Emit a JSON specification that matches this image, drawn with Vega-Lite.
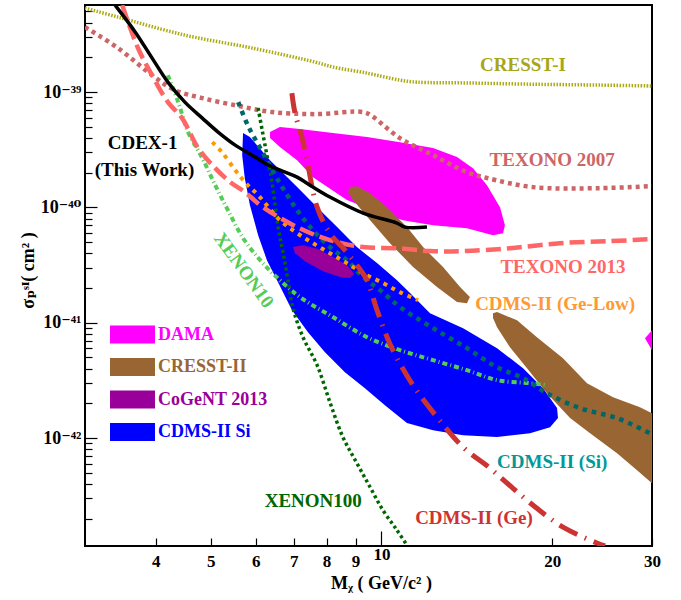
{
"$schema": "https://vega.github.io/schema/vega-lite/v6.json",
"width": 567, "height": 541,
"autosize": {"type": "none"},
"padding": {"left": 85, "top": 5, "right": 29, "bottom": 54},
"background": "white",
"config": {"view": {"stroke": "black", "strokeWidth": 2}},
"datasets": {
"cresst1": [{"i":0,"m":3.0,"s":5.35e-39},{"i":1,"m":3.43,"s":4.47e-39},{"i":2,"m":4.5,"s":3.12e-39},{"i":3,"m":5.91,"s":2.41e-39},{"i":4,"m":7.64,"s":1.82e-39},{"i":5,"m":8.21,"s":1.65e-39},{"i":6,"m":9.43,"s":1.46e-39},{"i":7,"m":10.78,"s":1.27e-39},{"i":8,"m":11.55,"s":1.22e-39},{"i":9,"m":14.15,"s":1.2e-39},{"i":10,"m":18.5,"s":1.17e-39},{"i":11,"m":24.3,"s":1.15e-39},{"i":12,"m":30,"s":1.13e-39}],
"texono07": [{"i":0,"m":3.0,"s":3.66e-39},{"i":1,"m":3.43,"s":2.41e-39},{"i":2,"m":3.94,"s":1.4e-39},{"i":3,"m":4.32,"s":1.04e-39},{"i":4,"m":4.83,"s":8.87e-40},{"i":5,"m":5.59,"s":7.6e-40},{"i":6,"m":6.41,"s":6.71e-40},{"i":7,"m":7.64,"s":6.44e-40},{"i":8,"m":9.28,"s":6.71e-40},{"i":9,"m":9.62,"s":6.19e-40},{"i":10,"m":10.78,"s":3.99e-40},{"i":11,"m":12.33,"s":2.84e-40},{"i":12,"m":14.15,"s":2.02e-40},{"i":13,"m":15.35,"s":1.8e-40},{"i":14,"m":18.5,"s":1.5e-40},{"i":15,"m":24.3,"s":1.47e-40},{"i":16,"m":30,"s":1.53e-40}],
"cdex": [{"i":0,"m":3.39,"s":5.68e-39},{"i":1,"m":3.68,"s":3.31e-39},{"i":2,"m":3.94,"s":1.97e-39},{"i":3,"m":4.2,"s":1.22e-39},{"i":4,"m":4.5,"s":8.19e-40},{"i":5,"m":4.83,"s":5.95e-40},{"i":6,"m":5.15,"s":4.5e-40},{"i":7,"m":5.52,"s":3.47e-40},{"i":8,"m":5.91,"s":2.84e-40},{"i":9,"m":6.31,"s":2.33e-40},{"i":10,"m":6.76,"s":2.02e-40},{"i":11,"m":7.1,"s":1.83e-40},{"i":12,"m":7.57,"s":1.5e-40},{"i":13,"m":8.11,"s":1.23e-40},{"i":14,"m":9.28,"s":8.93e-41},{"i":15,"m":10.65,"s":7.31e-41},{"i":16,"m":11.0,"s":6.75e-41},{"i":17,"m":12.03,"s":6.75e-41}],
"texono13": [{"i":0,"m":3.49,"s":5.68e-39},{"i":1,"m":3.72,"s":2.41e-39},{"i":2,"m":3.94,"s":1.4e-39},{"i":3,"m":4.2,"s":8.19e-40},{"i":4,"m":4.45,"s":5.95e-40},{"i":5,"m":4.75,"s":3.27e-40},{"i":6,"m":5.09,"s":2.19e-40},{"i":7,"m":5.41,"s":1.66e-40},{"i":8,"m":5.74,"s":1.36e-40},{"i":9,"m":6.18,"s":1.006e-40},{"i":10,"m":7.1,"s":6.75e-41},{"i":11,"m":8.11,"s":5.21e-41},{"i":12,"m":9.28,"s":4.53e-41},{"i":13,"m":10.65,"s":4.43e-41},{"i":14,"m":12.18,"s":4.18e-41},{"i":15,"m":13.93,"s":4.18e-41},{"i":16,"m":16.85,"s":4.43e-41},{"i":17,"m":20.65,"s":4.9e-41},{"i":18,"m":25.3,"s":5.1e-41},{"i":19,"m":30,"s":5.31e-41}],
"xenon10": [{"i":0,"m":4.2,"s":1.4e-39},{"i":1,"m":4.38,"s":8.19e-40},{"i":2,"m":4.56,"s":4.5e-40},{"i":3,"m":4.83,"s":2.68e-40},{"i":4,"m":5.09,"s":1.56e-40},{"i":5,"m":5.36,"s":9.47e-41},{"i":6,"m":5.7,"s":5.42e-41},{"i":7,"m":6.11,"s":3.49e-41},{"i":8,"m":6.62,"s":2.34e-41},{"i":9,"m":7.18,"s":1.67e-41},{"i":10,"m":8.21,"s":1.12e-41},{"i":11,"m":9.43,"s":7.5e-42},{"i":12,"m":10.78,"s":5.79e-42},{"i":13,"m":12.33,"s":4.74e-42},{"i":14,"m":14.15,"s":3.88e-42},{"i":15,"m":15.99,"s":3.18e-42},{"i":16,"m":18.28,"s":2.99e-42},{"i":17,"m":19.58,"s":2.88e-42}],
"xenon100": [{"i":0,"m":6.06,"s":7.27e-40},{"i":1,"m":6.16,"s":4.68e-40},{"i":2,"m":6.28,"s":2.84e-40},{"i":3,"m":6.41,"s":1.66e-40},{"i":4,"m":6.57,"s":6.75e-41},{"i":5,"m":6.71,"s":4.01e-41},{"i":6,"m":6.84,"s":2.34e-41},{"i":7,"m":6.98,"s":1.34e-41},{"i":8,"m":7.27,"s":7.5e-42},{"i":9,"m":7.7,"s":4.29e-42},{"i":10,"m":8.11,"s":2.05e-42},{"i":11,"m":8.55,"s":1.02e-42},{"i":12,"m":9.05,"s":6.06e-43},{"i":13,"m":9.55,"s":3.75e-43},{"i":14,"m":10.06,"s":2.37e-43},{"i":15,"m":10.65,"s":1.59e-43},{"i":16,"m":11.09,"s":1.18e-43}],
"cdmsSiLimit": [{"i":0,"m":5.59,"s":8.19e-40},{"i":1,"m":5.82,"s":5.07e-40},{"i":2,"m":6.18,"s":2.96e-40},{"i":3,"m":6.62,"s":1.62e-40},{"i":4,"m":7.1,"s":9.47e-41},{"i":5,"m":7.57,"s":6.36e-41},{"i":6,"m":8.11,"s":4.53e-41},{"i":7,"m":8.69,"s":3.49e-41},{"i":8,"m":9.28,"s":2.49e-41},{"i":9,"m":9.94,"s":1.92e-41},{"i":10,"m":10.78,"s":1.37e-41},{"i":11,"m":12.33,"s":8.98e-42},{"i":12,"m":14.15,"s":6.02e-42},{"i":13,"m":15.99,"s":4.12e-42},{"i":14,"m":17.77,"s":3.31e-42},{"i":15,"m":19.58,"s":2.45e-42},{"i":16,"m":22.39,"s":1.82e-42},{"i":17,"m":26.03,"s":1.49e-42},{"i":18,"m":30,"s":1.08e-42}],
"geLow": [{"i":0,"m":5.03,"s":3.68e-40},{"i":1,"m":5.23,"s":3.02e-40},{"i":2,"m":5.52,"s":2.11e-40},{"i":3,"m":5.74,"s":1.66e-40},{"i":4,"m":6.06,"s":1.28e-40},{"i":5,"m":6.62,"s":7.76e-41},{"i":6,"m":7.1,"s":5.98e-41},{"i":7,"m":7.57,"s":4.9e-41},{"i":8,"m":8.11,"s":4.01e-41},{"i":9,"m":8.69,"s":3.29e-41},{"i":10,"m":9.28,"s":2.69e-41},{"i":11,"m":10.06,"s":2.21e-41},{"i":12,"m":10.78,"s":1.84e-41},{"i":13,"m":11.6,"s":1.57e-41}],
"cdmsGe": [{"i":0,"m":6.95,"s":9.8e-40},{"i":1,"m":7.04,"s":6.57e-40},{"i":2,"m":7.24,"s":4.07e-40},{"i":3,"m":7.39,"s":2.57e-40},{"i":4,"m":7.7,"s":1.006e-40},{"i":5,"m":8.11,"s":5.98e-41},{"i":6,"m":8.62,"s":4.26e-41},{"i":7,"m":9.05,"s":3.16e-41},{"i":8,"m":9.43,"s":2.34e-41},{"i":9,"m":9.82,"s":1.29e-41},{"i":10,"m":10.23,"s":7.5e-42},{"i":11,"m":10.65,"s":4.93e-42},{"i":12,"m":11.46,"s":2.71e-42},{"i":13,"m":12.53,"s":1.52e-42},{"i":14,"m":13.93,"s":8.34e-43},{"i":15,"m":15.54,"s":5.48e-43},{"i":16,"m":17.06,"s":3.67e-43},{"i":17,"m":18.8,"s":2.46e-43},{"i":18,"m":20.9,"s":1.69e-43},{"i":19,"m":23.99,"s":1.23e-43},{"i":20,"m":24.79,"s":1.16e-43}],
"dama": [{"name":"DAMA","part":"a","i":0,"m":6.36,"s":4.5e-40},{"name":"DAMA","part":"a","i":1,"m":6.62,"s":4.97e-40},{"name":"DAMA","part":"a","i":2,"m":7.18,"s":4.78e-40},{"name":"DAMA","part":"a","i":3,"m":8.21,"s":4.41e-40},{"name":"DAMA","part":"a","i":4,"m":9.43,"s":4.07e-40},{"name":"DAMA","part":"a","i":5,"m":10.78,"s":3.68e-40},{"name":"DAMA","part":"a","i":6,"m":12.33,"s":3.27e-40},{"name":"DAMA","part":"a","i":7,"m":13.59,"s":2.73e-40},{"name":"DAMA","part":"a","i":8,"m":14.5,"s":2.19e-40},{"name":"DAMA","part":"a","i":9,"m":15.35,"s":1.56e-40},{"name":"DAMA","part":"a","i":10,"m":16.19,"s":1.0e-40},{"name":"DAMA","part":"a","i":11,"m":16.51,"s":7.02e-41},{"name":"DAMA","part":"a","i":12,"m":16.38,"s":5.98e-41},{"name":"DAMA","part":"a","i":13,"m":15.73,"s":5.75e-41},{"name":"DAMA","part":"a","i":14,"m":14.15,"s":6.61e-41},{"name":"DAMA","part":"a","i":15,"m":12.33,"s":7.02e-41},{"name":"DAMA","part":"a","i":16,"m":10.91,"s":7.76e-41},{"name":"DAMA","part":"a","i":17,"m":9.94,"s":8.93e-41},{"name":"DAMA","part":"a","i":18,"m":8.69,"s":1.16e-40},{"name":"DAMA","part":"a","i":19,"m":7.57,"s":1.83e-40},{"name":"DAMA","part":"a","i":20,"m":7.1,"s":2.57e-40},{"name":"DAMA","part":"a","i":21,"m":6.62,"s":3.34e-40},{"name":"DAMA","part":"a","i":22,"m":6.36,"s":3.99e-40},{"name":"DAMA","part":"b","i":0,"m":30,"s":8.63e-42},{"name":"DAMA","part":"b","i":1,"m":29.16,"s":7.35e-42},{"name":"DAMA","part":"b","i":2,"m":30,"s":5.79e-42}],
"cdmsSiRegion": [{"name":"CDMS-II Si","i":0,"m":5.7,"s":4.41e-40},{"name":"CDMS-II Si","i":1,"m":5.86,"s":4.07e-40},{"name":"CDMS-II Si","i":2,"m":6.36,"s":2.57e-40},{"name":"CDMS-II Si","i":3,"m":7.1,"s":1.5e-40},{"name":"CDMS-II Si","i":4,"m":7.7,"s":1.006e-40},{"name":"CDMS-II Si","i":5,"m":8.35,"s":6.75e-41},{"name":"CDMS-II Si","i":6,"m":9.05,"s":4.53e-41},{"name":"CDMS-II Si","i":7,"m":9.82,"s":3.29e-41},{"name":"CDMS-II Si","i":8,"m":10.65,"s":2.34e-41},{"name":"CDMS-II Si","i":9,"m":11.23,"s":1.81e-41},{"name":"CDMS-II Si","i":10,"m":12.18,"s":1.21e-41},{"name":"CDMS-II Si","i":11,"m":13.93,"s":8.98e-42},{"name":"CDMS-II Si","i":12,"m":15.99,"s":6.02e-42},{"name":"CDMS-II Si","i":13,"m":17.77,"s":4.04e-42},{"name":"CDMS-II Si","i":14,"m":19.27,"s":2.71e-42},{"name":"CDMS-II Si","i":15,"m":20.4,"s":1.82e-42},{"name":"CDMS-II Si","i":16,"m":20.48,"s":1.49e-42},{"name":"CDMS-II Si","i":17,"m":19.83,"s":1.24e-42},{"name":"CDMS-II Si","i":18,"m":18.28,"s":1.1e-42},{"name":"CDMS-II Si","i":19,"m":15.99,"s":1.02e-42},{"name":"CDMS-II Si","i":20,"m":13.93,"s":1.06e-42},{"name":"CDMS-II Si","i":21,"m":12.33,"s":1.17e-42},{"name":"CDMS-II Si","i":22,"m":11.09,"s":1.35e-42},{"name":"CDMS-II Si","i":23,"m":10.14,"s":1.93e-42},{"name":"CDMS-II Si","i":24,"m":9.35,"s":2.71e-42},{"name":"CDMS-II Si","i":25,"m":8.62,"s":3.73e-42},{"name":"CDMS-II Si","i":26,"m":7.95,"s":5.56e-42},{"name":"CDMS-II Si","i":27,"m":7.42,"s":8.29e-42},{"name":"CDMS-II Si","i":28,"m":6.95,"s":1.29e-41},{"name":"CDMS-II Si","i":29,"m":6.57,"s":2.25e-41},{"name":"CDMS-II Si","i":30,"m":6.28,"s":3.49e-41},{"name":"CDMS-II Si","i":31,"m":6.06,"s":5.75e-41},{"name":"CDMS-II Si","i":32,"m":5.86,"s":1.05e-40},{"name":"CDMS-II Si","i":33,"m":5.74,"s":1.8e-40},{"name":"CDMS-II Si","i":34,"m":5.68,"s":2.84e-40}],
"cresst2": [{"name":"CRESST-II","part":"a","i":0,"m":8.8,"s":1.5e-40},{"name":"CRESST-II","part":"a","i":1,"m":9.05,"s":1.53e-40},{"name":"CRESST-II","part":"a","i":2,"m":9.55,"s":1.33e-40},{"name":"CRESST-II","part":"a","i":3,"m":10.23,"s":1.006e-40},{"name":"CRESST-II","part":"a","i":4,"m":11.09,"s":6.75e-41},{"name":"CRESST-II","part":"a","i":5,"m":11.84,"s":4.53e-41},{"name":"CRESST-II","part":"a","i":6,"m":12.84,"s":3.04e-41},{"name":"CRESST-II","part":"a","i":7,"m":13.76,"s":2.04e-41},{"name":"CRESST-II","part":"a","i":8,"m":14.32,"s":1.67e-41},{"name":"CRESST-II","part":"a","i":9,"m":14.15,"s":1.48e-41},{"name":"CRESST-II","part":"a","i":10,"m":13.59,"s":1.51e-41},{"name":"CRESST-II","part":"a","i":11,"m":12.53,"s":2.04e-41},{"name":"CRESST-II","part":"a","i":12,"m":11.37,"s":3.04e-41},{"name":"CRESST-II","part":"a","i":13,"m":10.35,"s":4.9e-41},{"name":"CRESST-II","part":"a","i":14,"m":9.55,"s":7.76e-41},{"name":"CRESST-II","part":"a","i":15,"m":8.91,"s":1.16e-40},{"name":"CRESST-II","part":"a","i":16,"m":8.73,"s":1.36e-40},{"name":"CRESST-II","part":"b","i":0,"m":15.73,"s":1.1e-41},{"name":"CRESST-II","part":"b","i":1,"m":15.73,"s":1.21e-41},{"name":"CRESST-II","part":"b","i":2,"m":15.99,"s":1.24e-41},{"name":"CRESST-II","part":"b","i":3,"m":17.34,"s":1.05e-41},{"name":"CRESST-II","part":"b","i":4,"m":18.8,"s":7.5e-42},{"name":"CRESST-II","part":"b","i":5,"m":20.9,"s":4.93e-42},{"name":"CRESST-II","part":"b","i":6,"m":23.04,"s":2.99e-42},{"name":"CRESST-II","part":"b","i":7,"m":25.61,"s":2.26e-42},{"name":"CRESST-II","part":"b","i":8,"m":28.57,"s":1.85e-42},{"name":"CRESST-II","part":"b","i":9,"m":30,"s":1.64e-42},{"name":"CRESST-II","part":"b","i":10,"m":30,"s":4.06e-43},{"name":"CRESST-II","part":"b","i":11,"m":28.23,"s":5.27e-43},{"name":"CRESST-II","part":"b","i":12,"m":26.03,"s":7.4e-43},{"name":"CRESST-II","part":"b","i":13,"m":23.33,"s":1.1e-42},{"name":"CRESST-II","part":"b","i":14,"m":21.51,"s":1.49e-42},{"name":"CRESST-II","part":"b","i":15,"m":19.58,"s":2.45e-42},{"name":"CRESST-II","part":"b","i":16,"m":18.06,"s":4.04e-42},{"name":"CRESST-II","part":"b","i":17,"m":16.85,"s":6.14e-42},{"name":"CRESST-II","part":"b","i":18,"m":15.99,"s":9.16e-42}],
"cogent": [{"name":"CoGeNT 2013","i":0,"m":6.98,"s":4.53e-41},{"name":"CoGeNT 2013","i":1,"m":7.27,"s":4.71e-41},{"name":"CoGeNT 2013","i":2,"m":7.73,"s":4.35e-41},{"name":"CoGeNT 2013","i":3,"m":8.21,"s":3.71e-41},{"name":"CoGeNT 2013","i":4,"m":8.73,"s":3.1e-41},{"name":"CoGeNT 2013","i":5,"m":8.95,"s":2.64e-41},{"name":"CoGeNT 2013","i":6,"m":8.8,"s":2.44e-41},{"name":"CoGeNT 2013","i":7,"m":8.45,"s":2.49e-41},{"name":"CoGeNT 2013","i":8,"m":7.89,"s":2.8e-41},{"name":"CoGeNT 2013","i":9,"m":7.33,"s":3.42e-41},{"name":"CoGeNT 2013","i":10,"m":7.04,"s":4.01e-41}]
},
"encoding": {
"x": {"field": "m", "type": "quantitative",
  "scale": {"type": "log", "domain": [3, 30], "nice": false},
  "axis": {"values": [4,5,6,7,8,9,10,20,30], "labelExpr": "format(datum.value, 'd')",
    "labelFont": "Liberation Serif", "labelFontWeight": "bold", "labelFontSize": 17, "labelColor": "black",
    "tickColor": "black", "tickWidth": 1.2,
    "tickSize": {"condition": {"test": "datum.value == 10", "value": -15}, "value": -8},
    "labelPadding": 15, "domain": false, "grid": false, "labelFlush": false, "labelOverlap": false,
    "title": "Mᵪ ( GeV/c² )", "titleFont": "Liberation Serif, DejaVu Serif", "titleFontWeight": "bold", "titleFontSize": 18, "titleColor": "black",
    "titleX": 296, "titleY": 37, "titleBaseline": "middle", "titleAlign": "center"}},
"y": {"field": "s", "type": "quantitative",
  "scale": {"type": "log", "domain": [1.16e-43, 5.69e-39], "nice": false},
  "axis": {"values": [2e-43,3e-43,4e-43,5e-43,6e-43,7e-43,8e-43,9e-43,1e-42,2e-42,3e-42,4e-42,5e-42,6e-42,7e-42,8e-42,9e-42,1e-41,2e-41,3e-41,4e-41,5e-41,6e-41,7e-41,8e-41,9e-41,1e-40,2e-40,3e-40,4e-40,5e-40,6e-40,7e-40,8e-40,9e-40,1e-39,2e-39,3e-39,4e-39,5e-39],
    "labelExpr": "abs(log(datum.value)/LN10 - round(log(datum.value)/LN10)) > 0.001 ? '' : round(log(datum.value)/LN10) == -39 ? '10⁻³⁹' : round(log(datum.value)/LN10) == -40 ? '10⁻⁴⁰' : round(log(datum.value)/LN10) == -41 ? '10⁻⁴¹' : '10⁻⁴²'",
    "labelFont": "Liberation Serif, DejaVu Serif", "labelFontWeight": "bold", "labelFontSize": 18, "labelColor": "black",
    "tickColor": "black", "tickWidth": 1.2,
    "tickSize": {"condition": {"test": "abs(log(datum.value)/LN10 - round(log(datum.value)/LN10)) < 0.001", "value": -12}, "value": -7},
    "labelPadding": 16, "domain": false, "grid": false, "labelFlush": false, "labelOverlap": false,
    "title": "σₚˢᴵ( cm² )", "titleFont": "Liberation Serif, DejaVu Serif", "titleFontWeight": "bold", "titleFontSize": 18, "titleColor": "black",
    "titleX": -57, "titleY": 265, "titleBaseline": "middle", "titleAlign": "center", "titleAngle": -90}}
},
"layer": [
{"data": {"name": "dama"}, "mark": {"type": "line", "filled": true, "interpolate": "linear-closed", "clip": true, "opacity": 1, "strokeWidth": 0},
 "encoding": {"color": {"field": "name", "type": "nominal",
   "scale": {"domain": ["DAMA", "CRESST-II", "CoGeNT 2013", "CDMS-II Si"], "range": ["#ff00ff", "#996633", "#990099", "#0000ff"]},
   "legend": {"orient": "none", "legendX": 36, "legendY": 318, "title": null, "padding": 0,
     "symbolType": "M-2,-0.8H2V0.8H-2Z", "symbolSize": 506, "symbolStrokeWidth": 0, "symbolOpacity": 1,
     "labelFont": "Liberation Serif", "labelFontWeight": "bold", "labelFontSize": 18, "labelOffset": 14, "rowPadding": 11.5, "labelLimit": 300, "labelBaseline": "middle",
     "encode": {"symbols": {"update": {"fill": {"signal": "datum.value === 'DAMA' ? '#ff00ff' : datum.value === 'CRESST-II' ? '#996633' : datum.value === 'CoGeNT 2013' ? '#990099' : '#0000ff'"}, "opacity": {"value": 1}}},
                "labels": {"update": {"fill": {"signal": "datum.value === 'DAMA' ? '#ff00ff' : datum.value === 'CRESST-II' ? '#996633' : datum.value === 'CoGeNT 2013' ? '#990099' : '#0000ff'"}}}}}},
   "detail": {"field": "part"}, "order": {"field": "i", "type": "quantitative"}}},
{"data": {"name": "cdmsSiRegion"}, "mark": {"type": "line", "filled": true, "interpolate": "linear-closed", "clip": true, "opacity": 1, "strokeWidth": 0},
 "encoding": {"color": {"field": "name", "type": "nominal"}, "order": {"field": "i", "type": "quantitative"}}},
{"data": {"name": "cresst2"}, "mark": {"type": "line", "filled": true, "interpolate": "linear-closed", "clip": true, "opacity": 1, "strokeWidth": 0},
 "encoding": {"color": {"field": "name", "type": "nominal"}, "detail": {"field": "part"}, "order": {"field": "i", "type": "quantitative"}}},
{"data": {"name": "cogent"}, "mark": {"type": "line", "filled": true, "interpolate": "linear-closed", "clip": true, "opacity": 1, "strokeWidth": 0},
 "encoding": {"color": {"field": "name", "type": "nominal"}, "order": {"field": "i", "type": "quantitative"}}},
{"data": {"name": "cresst1"}, "mark": {"type": "line", "color": "#aaaa11", "strokeWidth": 3.5, "strokeDash": [1.5, 1.5], "interpolate": "catmull-rom", "clip": true},
 "encoding": {"order": {"field": "i", "type": "quantitative"}}},
{"data": {"name": "texono07"}, "mark": {"type": "line", "color": "#cc6666", "strokeWidth": 4.5, "strokeDash": [4, 4], "interpolate": "catmull-rom", "clip": true},
 "encoding": {"order": {"field": "i", "type": "quantitative"}}},
{"data": {"name": "xenon10"}, "mark": {"type": "line", "color": "#55cc55", "strokeWidth": 4, "strokeDash": [5, 3, 1, 3], "interpolate": "catmull-rom", "clip": true},
 "encoding": {"order": {"field": "i", "type": "quantitative"}}},
{"data": {"name": "xenon100"}, "mark": {"type": "line", "color": "#006600", "strokeWidth": 3.5, "strokeDash": [3, 3], "interpolate": "catmull-rom", "clip": true},
 "encoding": {"order": {"field": "i", "type": "quantitative"}}},
{"data": {"name": "cdmsSiLimit"}, "mark": {"type": "line", "color": "#006666", "strokeWidth": 4.5, "strokeDash": [4.5, 5], "interpolate": "catmull-rom", "clip": true},
 "encoding": {"order": {"field": "i", "type": "quantitative"}}},
{"data": {"name": "geLow"}, "mark": {"type": "line", "color": "#ff9900", "strokeWidth": 4, "strokeDash": [4, 5], "interpolate": "catmull-rom", "clip": true},
 "encoding": {"order": {"field": "i", "type": "quantitative"}}},
{"data": {"name": "texono13"}, "mark": {"type": "line", "color": "#ff6666", "strokeWidth": 4.5, "strokeDash": [15, 6], "interpolate": "catmull-rom", "clip": true},
 "encoding": {"order": {"field": "i", "type": "quantitative"}}},
{"data": {"name": "cdmsGe"}, "mark": {"type": "line", "color": "#cc3333", "strokeWidth": 5, "strokeDash": [20, 8, 1.5, 8], "interpolate": "catmull-rom", "clip": true},
 "encoding": {"order": {"field": "i", "type": "quantitative"}}},
{"data": {"name": "cdex"}, "mark": {"type": "line", "color": "black", "strokeWidth": 3.5, "interpolate": "catmull-rom", "clip": true},
 "encoding": {"order": {"field": "i", "type": "quantitative"}}},
{"data": {"values": [{"m": 17.77, "s": 1.71e-39, "t": "CRESST-I"}]}, "mark": {"type": "text", "font": "Liberation Serif", "fontWeight": "bold", "fontSize": 19, "color": "#a6a61a", "align": "center", "baseline": "middle"}, "encoding": {"text": {"field": "t"}}},
{"data": {"values": [{"m": 20.0, "s": 2.57e-40, "t": "TEXONO 2007"}]}, "mark": {"type": "text", "font": "Liberation Serif", "fontWeight": "bold", "fontSize": 19, "color": "#cc6666", "align": "center", "baseline": "middle"}, "encoding": {"text": {"field": "t"}}},
{"data": {"values": [{"m": 3.79, "s": 3.61e-40, "t": "CDEX-1"}, {"m": 3.82, "s": 2.11e-40, "t": "(This Work)"}]}, "mark": {"type": "text", "font": "Liberation Serif", "fontWeight": "bold", "fontSize": 19, "color": "black", "align": "center", "baseline": "middle"}, "encoding": {"text": {"field": "t"}}},
{"data": {"values": [{"m": 20.9, "s": 3.04e-41, "t": "TEXONO 2013"}]}, "mark": {"type": "text", "font": "Liberation Serif", "fontWeight": "bold", "fontSize": 19, "color": "#ff6666", "align": "center", "baseline": "middle"}, "encoding": {"text": {"field": "t"}}},
{"data": {"values": [{"m": 20.24, "s": 1.45e-41, "t": "CDMS-II (Ge-Low)"}]}, "mark": {"type": "text", "font": "Liberation Serif", "fontWeight": "bold", "fontSize": 19, "color": "#ff9933", "align": "center", "baseline": "middle"}, "encoding": {"text": {"field": "t"}}},
{"data": {"values": [{"m": 20.0, "s": 6.2e-43, "t": "CDMS-II (Si)"}]}, "mark": {"type": "text", "font": "Liberation Serif", "fontWeight": "bold", "fontSize": 19, "color": "#009999", "align": "center", "baseline": "middle"}, "encoding": {"text": {"field": "t"}}},
{"data": {"values": [{"m": 7.58, "s": 2.85e-43, "t": "XENON100"}]}, "mark": {"type": "text", "font": "Liberation Serif", "fontWeight": "bold", "fontSize": 19, "color": "#006600", "align": "center", "baseline": "middle"}, "encoding": {"text": {"field": "t"}}},
{"data": {"values": [{"m": 14.56, "s": 2.02e-43, "t": "CDMS-II (Ge)"}]}, "mark": {"type": "text", "font": "Liberation Serif", "fontWeight": "bold", "fontSize": 19, "color": "#cc3333", "align": "center", "baseline": "middle"}, "encoding": {"text": {"field": "t"}}},
{"data": {"values": [{"m": 5.72, "s": 2.86e-41, "t": "XENON10"}]}, "mark": {"type": "text", "font": "Liberation Serif", "fontWeight": "bold", "fontSize": 19, "color": "#55cc55", "align": "center", "baseline": "middle", "angle": 54}, "encoding": {"text": {"field": "t"}}}
]
}
